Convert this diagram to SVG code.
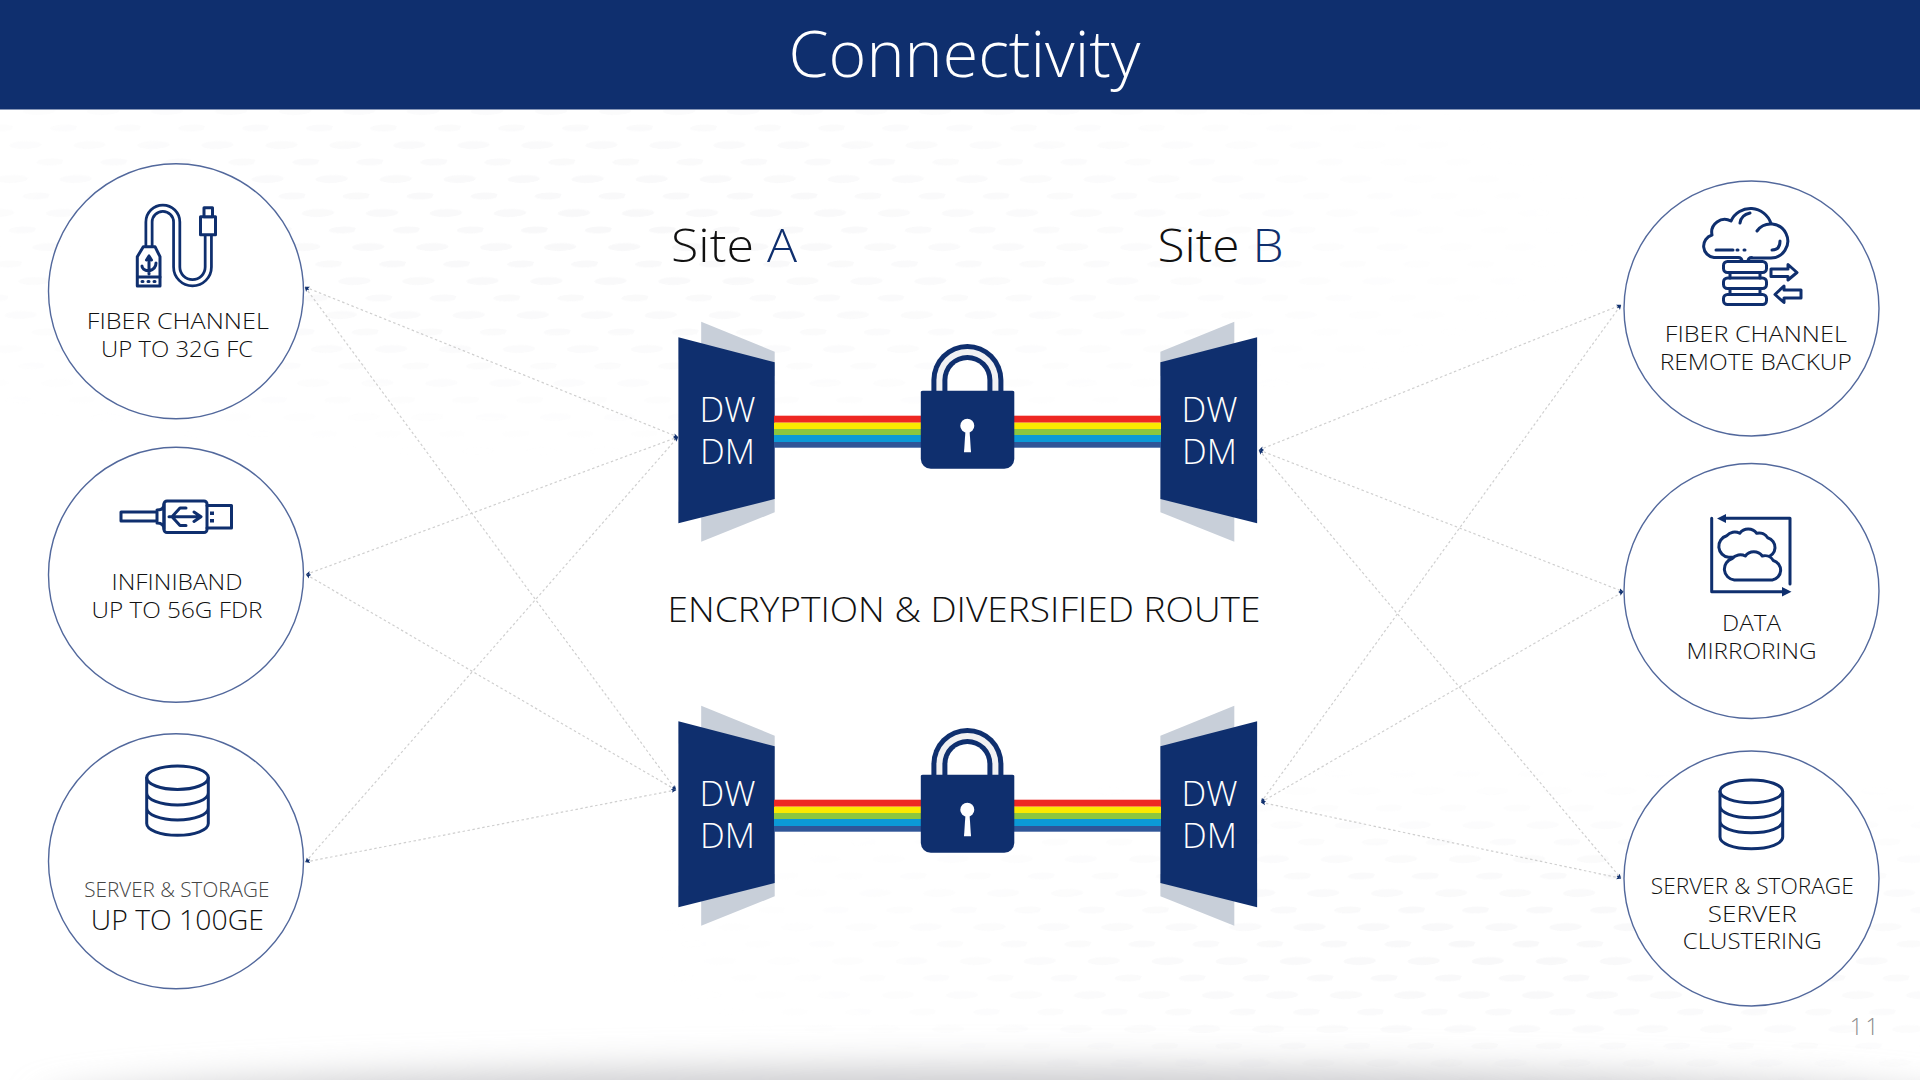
<svg xmlns="http://www.w3.org/2000/svg" xmlns:xlink="http://www.w3.org/1999/xlink" width="1920" height="1080" viewBox="0 0 1920 1080">
<style>
text{font-family:"Open Sans","Liberation Sans",sans-serif;font-weight:300;fill:#111;text-anchor:middle}
.ring{fill:#fff;stroke:#52689c;stroke-width:1.4}
.ic{fill:none;stroke:#0f2f6e;stroke-width:3;stroke-linecap:round;stroke-linejoin:round}
.icf{fill:#fff;stroke:#0f2f6e;stroke-width:3;stroke-linejoin:round}
.solid{fill:#0f2f6e}
.lab{font-size:22.500px}
.dw{font-size:35px;fill:#fff}
.link{fill:none;stroke:#cfcfcf;stroke-width:1.2;stroke-dasharray:2.5 2.5;marker-start:url(#tip);marker-end:url(#tip)}
</style>
<defs>
<marker id="tip" viewBox="0 0 6 6" refX="5.5" refY="3" markerWidth="5" markerHeight="5" markerUnits="userSpaceOnUse" orient="auto-start-reverse"><path d="M0 .6L6 3L0 5.4L1.4 3Z" fill="#0f2f6e"/></marker>
<pattern id="dots" width="64" height="34" patternUnits="userSpaceOnUse" patternTransform="skewX(-22)"><ellipse cx="20" cy="9" rx="16" ry="4" fill="#f8f8f9"/><ellipse cx="52" cy="26" rx="14" ry="3.500" fill="#f8f8f9"/></pattern>
<radialGradient id="fa" cx=".5" cy=".5" r=".5"><stop offset="0" stop-color="#fff"/><stop offset=".5" stop-color="#999"/><stop offset="1" stop-color="#000"/></radialGradient>
<mask id="dm" maskUnits="userSpaceOnUse" x="0" y="0" width="1920" height="1080"><ellipse cx="600" cy="230" rx="1000" ry="230" fill="url(#fa)"/><ellipse cx="1500" cy="950" rx="850" ry="190" fill="url(#fa)"/></mask>
<filter id="blur" x="-10%" y="-100%" width="120%" height="300%"><feGaussianBlur stdDeviation="18"/></filter>
<path id="cloud" d="M11 30A11 11 0 0 1 9 8.500A10.500 10.500 0 0 1 22 6A10.500 10.500 0 0 1 39 6A10 10 0 0 1 50 10.500A10 10 0 0 1 49 30Z"/>
<g id="lockset">
<path d="M701.200 321.700L774.700 351.700V376L701.200 352Z" fill="#c8cfd9"/>
<path d="M701.200 541.700L774.700 512.300V490L701.200 510Z" fill="#c8cfd9"/>
<path d="M1234.300 321.700L1160.400 351.700V376L1234.300 352Z" fill="#c8cfd9"/>
<path d="M1234.300 541.700L1160.400 512.300V490L1234.300 510Z" fill="#c8cfd9"/>
<path d="M678.400 337.300L774.700 362.300V499L678.400 523.300Z" class="solid"/>
<path d="M1257.100 337.300L1160.400 362.300V499L1257.100 523.300Z" class="solid"/>
<rect x="774" y="415.700" width="387" height="7" fill="#ee2722"/>
<rect x="774" y="422.700" width="387" height="6.300" fill="#fbe900"/>
<rect x="774" y="429" width="387" height="6" fill="#8cc63f"/>
<rect x="774" y="435" width="387" height="7" fill="#0b9ad6"/>
<rect x="774" y="442" width="387" height="5.700" fill="#2f5597"/>
<path d="M931.400 392V380A36 36 0 0 1 1003.400 380V392Z" class="solid"/>
<path d="M936.400 392V380A31 31 0 0 1 998.400 380V392Z" fill="#f1f1f3"/>
<path d="M942.400 392V380A25 25 0 0 1 992.400 380V392Z" class="solid"/>
<path d="M947.400 392V380A20 20 0 0 1 987.400 380V392Z" fill="#fff"/>
<path d="M920.800 393a2 2 0 0 1 2-2.300h89.500a2 2 0 0 1 2 2.300V459a10 10 0 0 1-10 9.700H930.800a10 10 0 0 1-10-9.700Z" class="solid"/>
<ellipse cx="967.300" cy="425.700" rx="7" ry="7" fill="#fff"/>
<path d="M965.500 430H969.500L971 452.300H964Z" fill="#fff"/>
</g>
</defs>
<rect width="1920" height="1080" fill="#fff"/>
<rect y="110" width="1920" height="970" fill="url(#dots)" mask="url(#dm)"/>
<ellipse cx="1000" cy="1108" rx="960" ry="40" fill="#c9c9cc" filter="url(#blur)"/>
<rect width="1920" height="109.500" fill="#0f2f6e"/>
<text x="964.500" y="77" font-size="64" textLength="352" lengthAdjust="spacingAndGlyphs" style="fill:#fff">Connectivity</text>
<text x="734" y="261.500" font-size="46" textLength="126" lengthAdjust="spacingAndGlyphs">Site <tspan style="fill:#0f2f6e">A</tspan></text>
<text x="1220.500" y="261.500" font-size="46" textLength="126" lengthAdjust="spacingAndGlyphs">Site <tspan style="fill:#0f2f6e">B</tspan></text>
<text x="964" y="621.700" font-size="35" textLength="593" lengthAdjust="spacingAndGlyphs">ENCRYPTION &amp; DIVERSIFIED ROUTE</text>
<g id="connectors">
<path class="link" d="M305 287L678 437"/>
<path class="link" d="M305 287L676 790"/>
<path class="link" d="M306 574.500L678 437"/>
<path class="link" d="M306 574.500L676 790"/>
<path class="link" d="M305.500 862L678 437"/>
<path class="link" d="M305.500 862L676 790"/>
<path class="link" d="M1259 450L1621 305"/>
<path class="link" d="M1259 450L1623.300 591.700"/>
<path class="link" d="M1259 450L1621 878.300"/>
<path class="link" d="M1261 802.300L1621 305"/>
<path class="link" d="M1261 802.300L1623.300 591.700"/>
<path class="link" d="M1261 802.300L1621 878.300"/>
</g>
<g id="site-link-top"><use href="#lockset"/><text class="dw" x="727.500" y="421.700">DW</text><text class="dw" x="727.500" y="464.300">DM</text><text class="dw" x="1209.500" y="421.700">DW</text><text class="dw" x="1209.500" y="464.300">DM</text></g>
<g id="site-link-bottom" transform="translate(0 384)"><use href="#lockset"/><text class="dw" x="727.500" y="421.700">DW</text><text class="dw" x="727.500" y="464.300">DM</text><text class="dw" x="1209.500" y="421.700">DW</text><text class="dw" x="1209.500" y="464.300">DM</text></g>
<g id="fiber-channel">
<circle class="ring" cx="176" cy="291.300" r="127.500"/>
<path d="M149 248V222A13.800 13.800 0 0 1 176.700 222V267A15.800 15.800 0 0 0 208.300 267V236" fill="none" stroke="#0f2f6e" stroke-width="9"/>
<path d="M149 248V222A13.800 13.800 0 0 1 176.700 222V267A15.800 15.800 0 0 0 208.300 267V236" fill="none" stroke="#fff" stroke-width="3.500"/>
<path class="icf" d="M137.300 256.700L143.300 246.700H155L160 256.700V286H137.300Z"/>
<rect class="icf" x="200.500" y="216.700" width="15" height="18"/>
<rect class="icf" x="204" y="207.700" width="8.500" height="9"/>
<path class="ic" d="M149 256V274M142 266Q142 270 149 271Q156 269 156 263M149 256L146.500 260M149 256L151.500 260" stroke-width="2"/>
<path class="ic" d="M137.500 277H160M142 281.500H143M148 281.500H149M154 281.500H155" stroke-width="2"/>
<text class="lab"><tspan x="177.800" y="329" textLength="182" lengthAdjust="spacingAndGlyphs">FIBER CHANNEL</tspan><tspan x="177" y="356.700" textLength="152" lengthAdjust="spacingAndGlyphs">UP TO 32G FC</tspan></text>
</g>
<g id="infiniband">
<circle class="ring" cx="176" cy="574.800" r="127.500"/>
<rect class="ic" x="121" y="512" width="36" height="9"/>
<path class="ic" d="M157 510Q164 510 164 504V529Q164 523 157 523"/>
<rect class="ic" x="164" y="501" width="43" height="31.500" rx="3"/>
<path class="ic" d="M207 505.500H231.500V528H207"/>
<path class="ic" d="M169 516.700H199M194 512L201 516.700L194 521.500M172 516.700L180 508H186M172 516.700L180 525.500H186"/>
<path d="M210 511.500H214V515H210ZM210 519H214V522.500H210Z" class="solid"/>
<text class="lab"><tspan x="177" y="590" textLength="131" lengthAdjust="spacingAndGlyphs">INFINIBAND</tspan><tspan x="177" y="618.300" textLength="171" lengthAdjust="spacingAndGlyphs">UP TO 56G FDR</tspan></text>
</g>
<g id="server-storage">
<circle class="ring" cx="176" cy="861.300" r="127.500"/>
<ellipse class="ic" cx="177.500" cy="777.700" rx="30.800" ry="11.700"/>
<path class="ic" d="M146.700 777.700V823.500C146.700 830 160 835.300 177.500 835.300S208.300 830 208.300 823.500V777.700M146.700 793C146.700 799.500 160 805 177.500 805S208.300 799.500 208.300 793M146.700 808C146.700 814.500 160 820 177.500 820S208.300 814.500 208.300 808"/>
<text><tspan x="176.800" y="896.700" font-size="20.500" style="fill:#444" textLength="185" lengthAdjust="spacingAndGlyphs">SERVER &amp; STORAGE</tspan><tspan x="177.300" y="930" font-size="27" textLength="173" lengthAdjust="spacingAndGlyphs">UP TO 100GE</tspan></text>
</g>
<g id="remote-backup">
<circle class="ring" cx="1751.500" cy="308.500" r="127.500"/>
<path class="ic" d="M1738 257.500H1714A11.500 11.500 0 0 1 1712 235A13 13 0 0 1 1731 221A21.500 21.500 0 0 1 1771 223.500"/>
<path class="ic" d="M1757 231A17 17 0 1 1 1770 258H1752M1738 257.500Q1742 257.500 1742 261.500M1752 257.500Q1748 257.500 1748 261.500"/>
<path class="ic" d="M1716 250H1733M1737 250H1738M1744 250H1745M1740 223Q1741 215 1750 213M1772 250Q1780 250 1780 241"/>
<rect class="ic" x="1723.500" y="261.500" width="43" height="11" rx="4"/>
<rect class="ic" x="1723.500" y="278" width="43" height="10.500" rx="4"/>
<rect class="ic" x="1723.500" y="294.500" width="43" height="10" rx="4"/>
<path class="ic" d="M1730 272.500V278M1760 272.500V278M1730 288.500V294.500M1760 288.500V294.500"/>
<path class="ic" d="M1771 269H1788V264.500L1797 272.500L1788 280V276.500H1771Z"/>
<path class="ic" d="M1801 290H1784V286L1775 294.500L1784 302.500V298H1801Z"/>
<text class="lab"><tspan x="1755.800" y="341.700" textLength="182" lengthAdjust="spacingAndGlyphs">FIBER CHANNEL</tspan><tspan x="1755.800" y="370" textLength="192" lengthAdjust="spacingAndGlyphs">REMOTE BACKUP</tspan></text>
</g>
<g id="data-mirroring">
<circle class="ring" cx="1751.500" cy="591" r="127.500"/>
<path class="ic" d="M1711.700 518.300V591.700H1783M1790 584V518.300H1725" stroke-width="2.800"/>
<path d="M1782 587V596.500L1791.500 591.700ZM1726 514V523L1717 518.500Z" class="solid"/>
<use href="#cloud" class="icf" transform="translate(1717.700 527.300)"/>
<use href="#cloud" class="icf" transform="translate(1723.300 550)"/>
<text class="lab"><tspan x="1751.500" y="630.700" textLength="59" lengthAdjust="spacingAndGlyphs">DATA</tspan><tspan x="1751.500" y="659" textLength="130" lengthAdjust="spacingAndGlyphs">MIRRORING</tspan></text>
</g>
<g id="server-clustering">
<circle class="ring" cx="1751.500" cy="878.500" r="127.500"/>
<ellipse class="ic" cx="1751.300" cy="791.300" rx="31.300" ry="11.400"/>
<path class="ic" d="M1720 791.300V837C1720 843.500 1733 848.700 1751.300 848.700S1782.700 843.500 1782.700 837V791.300M1720 806C1720 812.500 1733 817.700 1751.300 817.700S1782.700 812.500 1782.700 806M1720 821C1720 827.500 1733 832.700 1751.300 832.700S1782.700 827.500 1782.700 821"/>
<text class="lab"><tspan x="1752.300" y="894" textLength="203" lengthAdjust="spacingAndGlyphs">SERVER &amp; STORAGE</tspan><tspan x="1752.300" y="921.700" textLength="89" lengthAdjust="spacingAndGlyphs">SERVER</tspan><tspan x="1752.300" y="949.300" textLength="139" lengthAdjust="spacingAndGlyphs">CLUSTERING</tspan></text>
</g>
<text x="1865.500" y="1034.500" font-size="23" letter-spacing="2.500" style="fill:#8c8c8c">11</text>
</svg>
